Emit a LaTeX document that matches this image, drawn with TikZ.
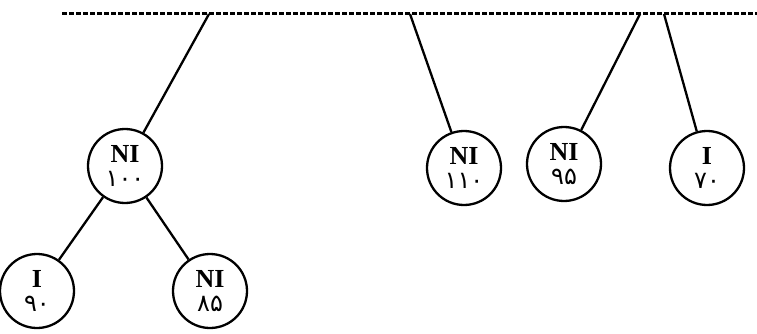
\documentclass[tikz,border=0pt]{standalone}
\usepackage{fontspec}
\setmainfont{Liberation Serif}
\newfontfamily\fanum[Script=Arabic]{DejaVu Sans}
\usetikzlibrary{positioning}

\newcommand{\val}[1]{{\fontsize{24}{24}\selectfont\fanum\mdseries #1}}

\begin{document}
\begin{tikzpicture}[x=1pt,y=-1pt,
        tree node/.style={circle, draw, line width=2.3pt, minimum size=74pt, inner sep=0pt,
                align=center, font=\fontsize{26}{24}\selectfont\bfseries},
        edge line/.style={line width=2.3pt}]
        \useasboundingbox (0, 0) rectangle (757, 334);
        \draw[line width=3pt, dash pattern=on 5pt off 2pt] (62, 14) -- (757, 14);

        \node[tree node] (n100) at (125, 166) {NI\\\val{۱۰۰}};
        \node[tree node] (n110) at (464, 168) {NI\\\val{۱۱۰}};
        \node[tree node] (n95) at (564, 164) {NI\\\val{۹۵}};
        \node[tree node] (n70) at (707, 168) {I\\\val{۷۰}};
        \node[tree node] (n90) at (37, 291) {I\\\val{۹۰}};
        \node[tree node] (n85) at (210, 291) {NI\\\val{۸۵}};

        \foreach \name/\x in {t1/209, t2/410, t3/640, t4/664}
                \coordinate (\name) at (\x, 14);

        \draw[edge line] (t1) -- (n100);
        \draw[edge line] (t2) -- (n110);
        \draw[edge line] (t3) -- (n95);
        \draw[edge line] (t4) -- (n70);
        \draw[edge line] (n100) -- (n90);
        \draw[edge line] (n100) -- (n85);
\end{tikzpicture}
\end{document}
